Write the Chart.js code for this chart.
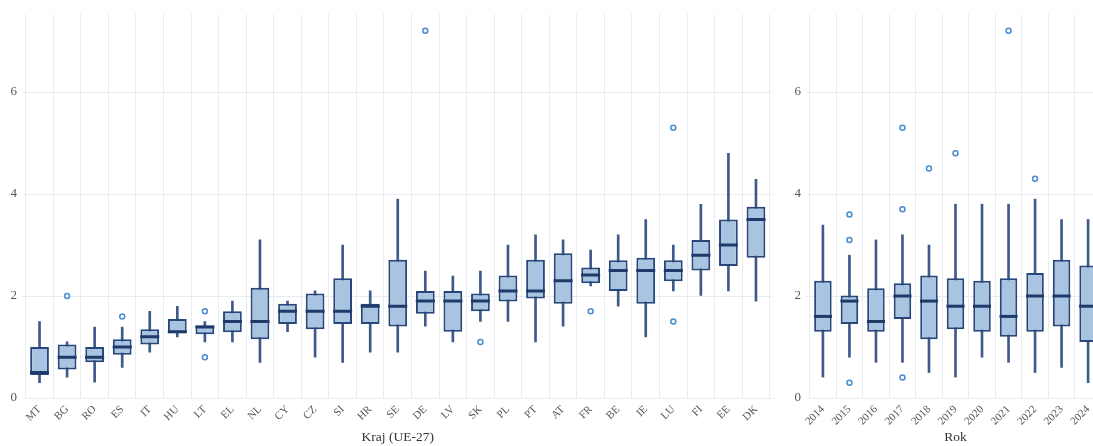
<!DOCTYPE html>
<html>
<head>
<meta charset="utf-8">
<script src="https://cdn.jsdelivr.net/npm/chart.js@4"></script>
<style>
  html, body { margin: 0; padding: 0; background: #fff; overflow: hidden; }
  #wrap { position: relative; width: 1093px; height: 446px; overflow: hidden; }
  #c1 { position: absolute; left: 0; top: 0; }
  #c2 { position: absolute; left: 780px; top: 0; }
</style>
</head>
<body>
<div id="wrap">
  <canvas id="c1" width="785" height="446"></canvas>
  <canvas id="c2" width="336" height="446"></canvas>
</div>
<script>
// left panel: countries
var countries = ['MT','BG','RO','ES','IT','HU','LT','EL','NL','CY','CZ','SI','HR','SE','DE','LV','SK','PL','PT','AT','FR','BE','IE','LU','FI','EE','DK'];
var cMin = [0.3, 0.41, 0.31, 0.6, 0.9, 1.2, 1.1, 1.1, 0.7, 1.3, 0.8, 0.7, 0.9, 0.9, 1.41, 1.1, 1.5, 1.5, 1.1, 1.41, 2.2, 1.8, 1.2, 2.1, 2.01, 2.1, 1.9];
var cQ1  = [0.45, 0.56, 0.7, 0.85, 1.05, 1.27, 1.25, 1.29, 1.15, 1.45, 1.35, 1.45, 1.45, 1.4, 1.65, 1.3, 1.7, 1.89, 1.95, 1.85, 2.25, 2.1, 1.85, 2.29, 2.5, 2.59, 2.75];
var cMed = [0.5, 0.8, 0.8, 1.0, 1.2, 1.3, 1.39, 1.5, 1.5, 1.7, 1.7, 1.7, 1.8, 1.8, 1.9, 1.9, 1.9, 2.1, 2.1, 2.3, 2.41, 2.5, 2.5, 2.5, 2.8, 3.0, 3.5];
var cQ3  = [1.0, 1.05, 1.0, 1.15, 1.35, 1.55, 1.42, 1.7, 2.16, 1.85, 2.05, 2.35, 1.85, 2.71, 2.1, 2.1, 2.05, 2.4, 2.71, 2.84, 2.56, 2.7, 2.75, 2.7, 3.1, 3.5, 3.75];
var cMax = [1.5, 1.1, 1.39, 1.39, 1.7, 1.8, 1.5, 1.9, 3.1, 1.9, 2.1, 3.0, 2.1, 3.9, 2.49, 2.39, 2.49, 3.0, 3.2, 3.1, 2.9, 3.2, 3.5, 3.0, 3.8, 4.8, 4.29];
var cOutCat = ['BG','ES','LT','LT','DE','SK','FR','LU','LU'];
var cOutVal = [2.0, 1.6, 1.7, 0.8, 7.2, 1.1, 1.7, 5.3, 1.5];

// right panel: years
var years = ['2014','2015','2016','2017','2018','2019','2020','2021','2022','2023','2024'];
var yMin = [0.41, 0.8, 0.7, 0.7, 0.5, 0.41, 0.8, 0.7, 0.5, 0.6, 0.3];
var yQ1  = [1.3, 1.45, 1.3, 1.55, 1.15, 1.35, 1.3, 1.2, 1.3, 1.4, 1.1];
var yMed = [1.6, 1.9, 1.5, 2.0, 1.9, 1.8, 1.8, 1.6, 2.0, 2.0, 1.8];
var yQ3  = [2.3, 2.01, 2.15, 2.25, 2.4, 2.35, 2.3, 2.35, 2.45, 2.71, 2.6];
var yMax = [3.39, 2.8, 3.1, 3.2, 3.0, 3.8, 3.8, 3.8, 3.9, 3.5, 3.5];
var yOutCat = ['2015','2015','2015','2017','2017','2017','2018','2019','2021','2022'];
var yOutVal = [3.6, 3.1, 0.3, 5.3, 3.7, 0.4, 4.5, 4.8, 7.2, 4.3];

var serif = "'Liberation Serif', 'DejaVu Serif', serif";
var gridColor = '#e7ecf3';

// x is a linear index axis so the category padding (~0.6) can match the picture
function boxChart(canvasId, labels, mins, q1s, meds, q3s, maxs, outCat, outVal, title, axisW, padRight, boxPct, medRad) {
  var whisk = [], boxes = [], medPts = [], outs = [];
  for (var i = 0; i < labels.length; i++) {
    whisk.push({ x: i, y: [mins[i], maxs[i]] });
    boxes.push({ x: i, y: [q1s[i], q3s[i]] });
    medPts.push({ x: i, y: meds[i] });
  }
  for (var j = 0; j < outCat.length; j++) {
    outs.push({ x: labels.indexOf(outCat[j]), y: outVal[j] });
  }
  return new Chart(document.getElementById(canvasId).getContext('2d'), {
    type: 'bar',
    data: {
      datasets: [
        {
          data: whisk,
          backgroundColor: '#3e5a8a',
          barThickness: 2,
          grouped: false,
          order: 4
        },
        {
          data: boxes,
          backgroundColor: '#a8c4e1',
          borderColor: '#27467a',
          borderWidth: 2,
          borderSkipped: false,
          barPercentage: boxPct,
          categoryPercentage: 1,
          grouped: false,
          order: 3
        },
        {
          type: 'line',
          data: medPts,
          showLine: false,
          pointStyle: 'line',
          pointRadius: medRad,
          pointBorderWidth: 3,
          pointBorderColor: '#1d3a6b',
          borderColor: '#1d3a6b',
          order: 2
        },
        {
          type: 'line',
          data: outs,
          showLine: false,
          pointStyle: 'circle',
          pointRadius: 2.5,
          pointBorderWidth: 1.5,
          pointBorderColor: '#4a8cd2',
          pointBackgroundColor: '#ffffff',
          order: 1
        }
      ]
    },
    options: {
      responsive: false,
      devicePixelRatio: 1,
      animation: false,
      layout: { padding: { top: 14, right: padRight, left: 0, bottom: 0 } },
      plugins: { legend: { display: false }, tooltip: { enabled: false } },
      scales: {
        x: {
          type: 'linear',
          min: -0.6,
          max: labels.length - 0.4,
          offset: false,
          grid: { color: gridColor, drawTicks: false },
          border: { display: false },
          ticks: {
            stepSize: 1, includeBounds: false,
            maxRotation: 45, minRotation: 45, autoSkip: false, padding: 5,
            color: '#555', font: { family: serif, size: 11 },
            callback: function (v) { return labels[v]; }
          },
          title: {
            display: true, text: title, color: '#333',
            font: { family: serif, size: 13.5 }, padding: { top: 0, bottom: 0 }
          },
          afterFit: function (s) { s.height = 48; }
        },
        y: {
          min: 0, max: 7.53,
          grid: { color: gridColor, drawTicks: false },
          border: { display: false },
          ticks: {
            stepSize: 2, includeBounds: false, padding: 6,
            color: '#555', font: { family: serif, size: 13 }
          },
          afterFit: function (s) { s.width = axisW; }
        }
      }
    }
  });
}

boxChart('c1', countries, cMin, cQ1, cMed, cQ3, cMax, cOutCat, cOutVal, 'Kraj (UE-27)', 23, 5, 0.68, 9.5);
boxChart('c2', years, yMin, yQ1, yMed, yQ3, yMax, yOutCat, yOutVal, 'Rok', 27, 1, 0.66, 9);
</script>
</body>
</html>
